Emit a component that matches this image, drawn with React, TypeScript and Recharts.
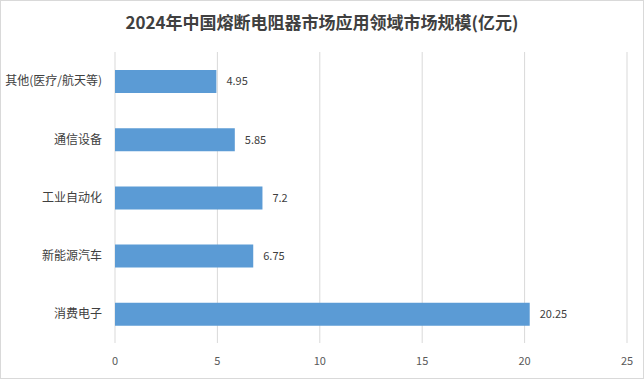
import { Bar, BarChart, CartesianGrid, LabelList, XAxis, YAxis } from "recharts";

const categories = ["其他(医疗/航天等)", "通信设备", "工业自动化", "新能源汽车", "消费电子"];
const values = [4.95, 5.85, 7.2, 6.75, 20.25];
const xTicks = [0, 5, 10, 15, 20, 25];

const data = categories.map((name, i) => ({ name, value: values[i] }));

const font = '"Noto Sans CJK SC", "Noto Sans", sans-serif';

export default function App() {
	return (
		<div
			style={{
				position: "fixed",
				left: 0,
				top: 0,
				width: 644,
				height: 379,
				boxSizing: "border-box",
				border: "1px solid #d9d9d9",
				background: "#fff",
				fontFamily: font,
			}}
		>
			<div
				style={{
					position: "absolute",
					top: 8,
					left: 0,
					width: 642,
					textAlign: "center",
					fontSize: 17,
					fontWeight: "bold",
					color: "#404040",
				}}
			>
				2024年中国熔断电阻器市场应用领域市场规模(亿元)
			</div>
			<BarChart
				width={642}
				height={377}
				data={data}
				layout="vertical"
				margin={{ top: 51, right: 16, bottom: 0, left: 0 }}
				style={{ position: "absolute", left: 0, top: 0 }}
			>
				<CartesianGrid horizontal={false} stroke="#d9d9d9" />
				<XAxis
					type="number"
					domain={[0, 25]}
					ticks={xTicks}
					axisLine={false}
					tickLine={false}
					tickMargin={8}
					height={35}
					tick={{ fill: "#595959", fontSize: 11, fontFamily: font }}
				/>
				<YAxis
					type="category"
					dataKey="name"
					width={114}
					axisLine={false}
					tickLine={false}
					tickMargin={7}
					interval={0}
					tick={{ fill: "#404040", fontSize: 12, fontFamily: font }}
				/>
				<Bar dataKey="value" fill="#5b9bd5" barSize={23} isAnimationActive={false}>
					<LabelList
						dataKey="value"
						position="right"
						offset={10}
						style={{ fill: "#404040", fontSize: 11, fontFamily: font }}
					/>
				</Bar>
			</BarChart>
		</div>
	);
}
